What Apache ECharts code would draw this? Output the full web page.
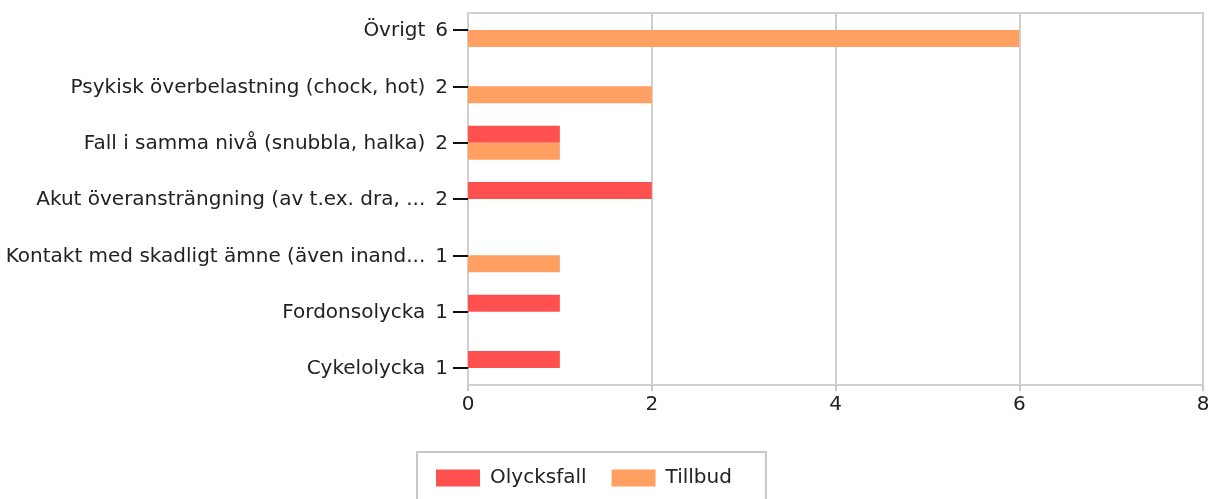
<!DOCTYPE html>
<html>
<head>
<meta charset="utf-8">
<script src="https://cdn.jsdelivr.net/npm/echarts@6/dist/echarts.min.js"></script>
<style>
    html, body { margin: 0; padding: 0; background: #fff; }
    #chart { width: 1213px; height: 499px; }
</style>
</head>
<body>
<div id="chart"></div>
<script>
// kategorier uppifrån och ned, som de visas
const categories = [
    "Övrigt",
    "Psykisk överbelastning (chock, hot)",
    "Fall i samma nivå (snubbla, halka)",
    "Akut överansträngning (av t.ex. dra, ...",
    "Kontakt med skadligt ämne (även inand...",
    "Fordonsolycka",
    "Cykelolycka",
];
const totals = [6, 2, 2, 2, 1, 1, 1];
const olycksfall = [0, 0, 1, 2, 0, 1, 1];
const tillbud = [6, 2, 1, 0, 1, 0, 0];
const xTicks = [0, 2, 4, 6, 8];

const font = "DejaVu Sans";
const fs = 20;
const chart = echarts.init(document.getElementById("chart"));

chart.setOption({
    color: ["#ff5050", "#ff9f62"],
    textStyle: { fontFamily: font },
    grid: [
        // ramen med stödlinjer
        {
            left: 468, right: 10, top: 13, bottom: 114,
            show: true, borderColor: "#d0d0d0", borderWidth: 2,
        },
        // staplarna (bandet sträcker sig utanför ramen)
        { left: 468, right: 10, top: 1.8, bottom: 102.8 },
    ],
    xAxis: [
        {
            gridIndex: 0,
            type: "value",
            min: xTicks[0],
            max: xTicks[xTicks.length - 1],
            interval: 2,
            axisLine: { show: false },
            axisTick: { show: true, length: 6, lineStyle: { color: "#c8c8c8", width: 2 } },
            axisLabel: { margin: 10, fontSize: fs, color: "#222", fontFamily: font },
            splitLine: { show: true, lineStyle: { color: "#d0d0d0", width: 2 } },
        },
        {
            gridIndex: 1,
            type: "value",
            min: 0,
            max: 8,
            show: false,
        },
    ],
    yAxis: [
        { gridIndex: 0, type: "value", show: false },
        {
            gridIndex: 1,
            type: "category",
            inverse: true,
            data: categories,
            axisLine: { show: false },
            axisTick: {
                show: true,
                alignWithLabel: true,
                length: 15,
                lineStyle: { color: "#111", width: 2 },
            },
            axisLabel: {
                margin: 20,
                fontSize: fs,
                color: "#222",
                fontFamily: font,
                formatter(value, index) {
                    return "{n|" + value + "}{t|" + totals[index] + "}";
                },
                rich: {
                    n: { fontSize: fs, color: "#222", fontFamily: font, padding: [2, 0, 0, 0] },
                    t: { fontSize: fs, color: "#222", fontFamily: font, padding: [2, 0, 0, 10] },
                },
            },
            splitLine: { show: false },
        },
    ],
    legend: {
        left: 417,
        top: 452,
        padding: [16, 34, 16, 19],
        itemWidth: 44,
        itemHeight: 17,
        itemGap: 25,
        icon: "rect",
        borderColor: "#c8c8c8",
        borderWidth: 2,
        selectedMode: false,
        textStyle: { fontSize: fs, color: "#222", fontFamily: font, padding: [0, 0, 0, 5] },
        data: ["Olycksfall", "Tillbud"],
    },
    series: [
        {
            name: "Olycksfall",
            type: "bar",
            xAxisIndex: 1,
            yAxisIndex: 1,
            barWidth: 17,
            barGap: "0%",
            data: olycksfall,
        },
        {
            name: "Tillbud",
            type: "bar",
            xAxisIndex: 1,
            yAxisIndex: 1,
            barWidth: 17,
            barGap: "0%",
            data: tillbud,
        },
    ],
});
</script>
</body>
</html>
